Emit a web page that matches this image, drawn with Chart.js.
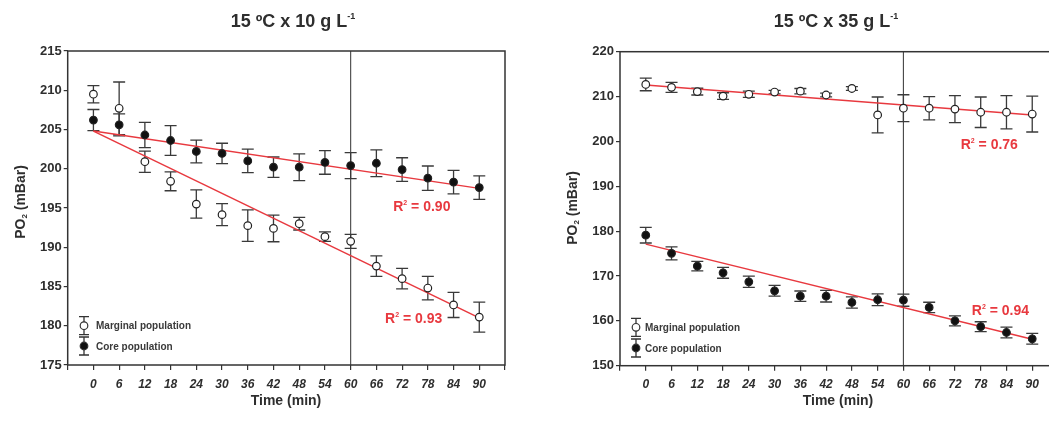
<!DOCTYPE html>
<html><head><meta charset="utf-8">
<script src="https://cdn.jsdelivr.net/npm/chart.js@4.4.1/dist/chart.umd.min.js"></script>
<style>
html,body{margin:0;padding:0;background:#fff;overflow:hidden;width:1049px;height:421px;}
.box{position:absolute;top:0;height:421px;}
</style></head><body>
<div class="box" style="left:0;width:530px"><canvas id="c1" width="530" height="421"></canvas></div>
<div class="box" style="left:540px;width:530px"><canvas id="c2" width="530" height="421"></canvas></div>
<script>
// ---------- data ----------
const times = [0,6,12,18,24,30,36,42,48,54,60,66,72,78,84,90];
const xTickValues = [-6,0,6,12,18,24,30,36,42,48,54,60,66,72,78,84,90,96];
const yTicksLeft = [175,180,185,190,195,200,205,210,215];
const yTicksRight = [150,160,170,180,190,200,210,220];

// 15 ºC x 10 g L-1
const leftMarginal    = [209.5,207.7,200.9,198.4,195.5,194.15,192.75,192.4,193.0,191.35,190.75,187.6,186.0,184.8,182.65,181.1];
const leftMarginalErr = [1.1,3.35,1.35,1.2,1.8,1.4,2.0,1.7,0.8,0.6,0.9,1.3,1.3,1.5,1.6,1.9];
const leftCore        = [206.2,205.6,204.3,203.6,202.2,201.95,201.0,200.2,200.2,200.8,200.4,200.7,199.9,198.8,198.3,197.6];
const leftCoreErr     = [1.35,1.4,1.6,1.9,1.45,1.3,1.5,1.3,1.7,1.5,1.65,1.7,1.5,1.55,1.5,1.5];
const leftMarginalFit = [204.8,181.0];   // fitted values at t=0 and t=90
const leftCoreFit     = [204.8,197.5];

// 15 ºC x 35 g L-1
const rightMarginal    = [212.7,212.05,211.1,210.1,210.5,211.0,211.2,210.35,211.8,205.9,207.4,207.4,207.2,206.5,206.5,206.1];
const rightMarginalErr = [1.4,1.1,0.75,0.75,0.7,0.4,0.6,0.4,0.4,4.0,3.0,2.6,3.0,3.4,3.7,4.0];
const rightCore        = [179.1,175.05,172.2,170.7,168.7,166.7,165.5,165.5,164.1,164.7,164.6,163.0,160.0,158.7,157.4,156.0];
const rightCoreErr     = [1.75,1.45,1.05,1.2,1.25,1.2,1.15,1.3,1.25,1.3,1.35,1.15,1.1,1.1,1.2,1.2];
const rightMarginalFit = [212.6,205.9];
const rightCoreFit     = [177.1,155.9];

const fitTimes = [0,90];
const leftR2  = [{text:'0.90', x:76.6, y:194.6},{text:'0.93', x:74.7, y:180.35}];
const rightR2 = [{text:'0.76', x:80.0, y:198.3},{text:'0.94', x:82.6, y:161.3}];

// ---------- drawing helpers ----------
const FONT = "'Liberation Sans', Arial, sans-serif";
const DARK = '#2e2e2e';
const RED = '#e8393f';

function segWidth(ctx, segs){
  let w = 0;
  segs.forEach(s => { ctx.font = s.font; w += ctx.measureText(s.t).width; });
  return w;
}
function drawSegs(ctx, segs, x, y, align){
  let w = segWidth(ctx, segs);
  let cx = align === 'center' ? x - w/2 : (align === 'right' ? x - w : x);
  ctx.textBaseline = 'alphabetic';
  ctx.textAlign = 'left';
  segs.forEach(s => {
    ctx.font = s.font;
    ctx.fillText(s.t, cx, y + (s.dy || 0));
    cx += ctx.measureText(s.t).width;
  });
}

const pts = arr => arr.map((v,i) => ({x: times[i], y: v}));
const fitPts = arr => arr.map((v,i) => ({x: fitTimes[i], y: v}));

const errorBars = {
  id: 'errorBars',
  beforeDatasetsDraw(chart){
    const {ctx, chartArea} = chart;
    const x = chart.scales.x, y = chart.scales.y;
    ctx.save();
    // vertical reference line at 60 min
    const vx = x.getPixelForValue(60);
    ctx.strokeStyle = '#444';
    ctx.lineWidth = 1.1;
    ctx.beginPath(); ctx.moveTo(vx, chartArea.top); ctx.lineTo(vx, chartArea.bottom); ctx.stroke();
    ctx.strokeStyle = '#3a3a3a';
    ctx.lineWidth = 1.3;
    chart.data.datasets.forEach(ds => {
      if (!ds.err) return;
      ds.data.forEach((p, j) => {
        const e = ds.err[j];
        const px = x.getPixelForValue(p.x);
        const t = y.getPixelForValue(p.y + e), b = y.getPixelForValue(p.y - e);
        ctx.beginPath();
        ctx.moveTo(px, t); ctx.lineTo(px, b);
        ctx.moveTo(px - 6, t); ctx.lineTo(px + 6, t);
        ctx.moveTo(px - 6, b); ctx.lineTo(px + 6, b);
        ctx.stroke();
      });
    });
    ctx.restore();
  }
};

const deco = {
  id: 'deco',
  afterDraw(chart, args, o){
    const {ctx, chartArea} = chart;
    const x = chart.scales.x, y = chart.scales.y;
    ctx.save();
    // frame
    ctx.strokeStyle = '#333';
    ctx.lineWidth = 1.5;
    ctx.strokeRect(chartArea.left, chartArea.top, chartArea.right - chartArea.left, chartArea.bottom - chartArea.top);
    ctx.fillStyle = DARK;
    // title
    drawSegs(ctx, [
      {t: o.title, font: `bold 18px ${FONT}`},
      {t: '-1', font: `bold 9px ${FONT}`, dy: -8}
    ], o.titleX, 27, 'center');
    // x title
    ctx.font = `bold 14px ${FONT}`;
    ctx.textAlign = 'center';
    ctx.fillText('Time (min)', o.xTitleX, 405);
    // y title (rotated)
    ctx.save();
    ctx.translate(o.yTitleX, o.yTitleY);
    ctx.rotate(-Math.PI/2);
    drawSegs(ctx, [
      {t: 'PO', font: `bold 14px ${FONT}`},
      {t: '2', font: `bold 8px ${FONT}`, dy: 2},
      {t: ' (mBar)', font: `bold 14px ${FONT}`}
    ], 0, 0, 'center');
    ctx.restore();
    // legend
    const L = o.legend;
    ctx.strokeStyle = '#333'; ctx.lineWidth = 1.3;
    [[L.y1, '#fff', 'Marginal population'], [L.y2, '#111', 'Core population']].forEach(([cy, fill, label]) => {
      ctx.beginPath();
      ctx.moveTo(L.x, cy - 9); ctx.lineTo(L.x, cy + 9);
      ctx.moveTo(L.x - 5, cy - 9); ctx.lineTo(L.x + 5, cy - 9);
      ctx.moveTo(L.x - 5, cy + 9); ctx.lineTo(L.x + 5, cy + 9);
      ctx.stroke();
      ctx.beginPath(); ctx.arc(L.x, cy, 3.8, 0, Math.PI*2);
      ctx.fillStyle = fill; ctx.fill(); ctx.lineWidth = 1.2; ctx.stroke(); ctx.lineWidth = 1.3;
      ctx.fillStyle = '#3a3a3a';
      ctx.font = `bold 10px ${FONT}`;
      ctx.textAlign = 'left';
      ctx.fillText(label, L.tx, cy + 3.6);
    });
    // R² labels
    ctx.fillStyle = RED;
    o.r2.forEach(r => {
      drawSegs(ctx, [
        {t: 'R', font: `bold 14px ${FONT}`},
        {t: '2', font: `bold 7px ${FONT}`, dy: -6},
        {t: ' = ' + r.text, font: `bold 14px ${FONT}`}
      ], x.getPixelForValue(r.x), y.getPixelForValue(r.y), 'center');
    });
    ctx.restore();
  }
};

function makeChart(id, cfg){
  const scatterDs = (data, err, fill) => ({
    type: 'scatter', data: pts(data), err: err,
    pointRadius: 3.8, pointBorderWidth: 1.2, pointHoverRadius: 3.8,
    pointBackgroundColor: fill, pointBorderColor: '#222', showLine: false, order: 1
  });
  const fitDs = data => ({
    type: 'line', data: fitPts(data), borderColor: RED, borderWidth: 1.5,
    pointRadius: 0, pointHoverRadius: 0, fill: false, order: 2
  });
  new Chart(document.getElementById(id), {
    type: 'scatter',
    data: {
      datasets: [
        scatterDs(cfg.marginal, cfg.marginalErr, '#ffffff'),
        scatterDs(cfg.core, cfg.coreErr, '#111111'),
        fitDs(cfg.marginalFit),
        fitDs(cfg.coreFit)
      ]
    },
    options: {
      responsive: false, animation: false,
      layout: {padding: {top: cfg.top, right: cfg.right, left: 0, bottom: 0}},
      plugins: {
        legend: {display: false}, tooltip: {enabled: false},
        deco: cfg.deco
      },
      scales: {
        x: {
          type: 'linear', min: -6, max: 96,
          afterBuildTicks: s => { s.ticks = xTickValues.map(v => ({value: v})); },
          afterFit: s => { s.height = cfg.xHeight; },
          ticks: {
            callback: v => (v < 0 || v > 90) ? '' : String(v),
            font: {family: FONT, size: 12, weight: 'bold', style: 'italic'},
            color: DARK, padding: 7, maxRotation: 0, autoSkip: false
          },
          grid: {drawOnChartArea: false, tickLength: 5, color: '#333', lineWidth: 1.2},
          border: {display: false}
        },
        y: {
          type: 'linear', min: cfg.yTicks[0], max: cfg.yTicks[cfg.yTicks.length - 1],
          afterBuildTicks: s => { s.ticks = cfg.yTicks.map(v => ({value: v})); },
          afterFit: s => { s.width = cfg.yWidth; },
          ticks: {
            font: {family: FONT, size: 13, weight: 'bold'},
            color: DARK, padding: 2, autoSkip: false
          },
          grid: {drawOnChartArea: false, tickLength: 4, color: '#333', lineWidth: 1.2},
          border: {display: false}
        }
      }
    },
    plugins: [errorBars, deco]
  });
}

makeChart('c1', {
  marginal: leftMarginal, marginalErr: leftMarginalErr,
  core: leftCore, coreErr: leftCoreErr,
  marginalFit: leftMarginalFit, coreFit: leftCoreFit,
  yTicks: yTicksLeft, top: 51, right: 25, xHeight: 56, yWidth: 67.7,
  deco: {
    title: '15 ºC x 10 g L', titleX: 293,
    xTitleX: 286, yTitleX: 25, yTitleY: 202,
    legend: {x: 84, y1: 325.7, y2: 346, tx: 96},
    r2: leftR2
  }
});
makeChart('c2', {
  marginal: rightMarginal, marginalErr: rightMarginalErr,
  core: rightCore, coreErr: rightCoreErr,
  marginalFit: rightMarginalFit, coreFit: rightCoreFit,
  yTicks: yTicksRight, top: 51.7, right: 12, xHeight: 55.3, yWidth: 80,
  deco: {
    title: '15 ºC x 35 g L', titleX: 296,
    xTitleX: 298, yTitleX: 36.7, yTitleY: 208,
    legend: {x: 96, y1: 327.3, y2: 348, tx: 105},
    r2: rightR2
  }
});
</script>
</body></html>
